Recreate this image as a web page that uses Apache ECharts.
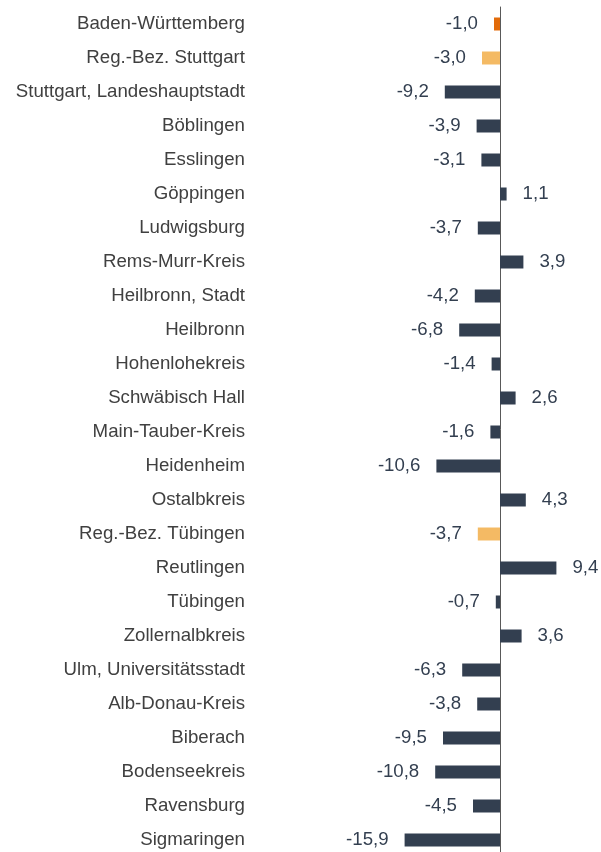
<!DOCTYPE html>
<html>
<head>
<meta charset="utf-8">
<script src="https://cdn.jsdelivr.net/npm/echarts@6/dist/echarts.min.js"></script>
<style>
  html, body { margin: 0; padding: 0; background: #ffffff; }
  #chart { width: 601px; height: 852px; }
</style>
</head>
<body>
<div id="chart"></div>
<script>
// Regions / districts, top to bottom
const categories = [
  'Baden-Württemberg',
  'Reg.-Bez. Stuttgart',
  'Stuttgart, Landeshauptstadt',
  'Böblingen',
  'Esslingen',
  'Göppingen',
  'Ludwigsburg',
  'Rems-Murr-Kreis',
  'Heilbronn, Stadt',
  'Heilbronn',
  'Hohenlohekreis',
  'Schwäbisch Hall',
  'Main-Tauber-Kreis',
  'Heidenheim',
  'Ostalbkreis',
  'Reg.-Bez. Tübingen',
  'Reutlingen',
  'Tübingen',
  'Zollernalbkreis',
  'Ulm, Universitätsstadt',
  'Alb-Donau-Kreis',
  'Biberach',
  'Bodenseekreis',
  'Ravensburg',
  'Sigmaringen'
];

// Change in percent
const values = [
  -1.0, -3.0, -9.2, -3.9, -3.1, 1.1, -3.7, 3.9, -4.2, -6.8,
  -1.4, 2.6, -1.6, -10.6, 4.3, -3.7, 9.4, -0.7, 3.6, -6.3,
  -3.8, -9.5, -10.8, -4.5, -15.9
];

// Bar group: 'land' = state total, 'rb' = administrative region, 'kreis' = district
const groups = [
  'land', 'rb', 'kreis', 'kreis', 'kreis', 'kreis', 'kreis', 'kreis', 'kreis', 'kreis',
  'kreis', 'kreis', 'kreis', 'kreis', 'kreis', 'rb', 'kreis', 'kreis', 'kreis', 'kreis',
  'kreis', 'kreis', 'kreis', 'kreis', 'kreis'
];

const groupColors = { land: '#E26B0A', rb: '#F4BA64', kreis: '#333F50' };

const fmt = v => v.toFixed(1).replace('.', ',');

// 14pt text
const FONT_SIZE = 18.67;

const chart = echarts.init(document.getElementById('chart'), null, { renderer: 'canvas' });

chart.setOption({
  animation: false,
  backgroundColor: '#ffffff',
  grid: {
    left: 380, width: 216, top: 7, height: 850,
    containLabel: false,
    outerBoundsMode: 'none'
  },
  xAxis: {
    type: 'value',
    min: -20,
    max: 16,
    show: false
  },
  yAxis: {
    type: 'category',
    data: categories,
    inverse: true,
    axisLine: { show: true, onZero: true, lineStyle: { color: '#595959', width: 1 } },
    axisTick: { show: false },
    splitLine: { show: false },
    axisLabel: {
      margin: 135,
      color: '#404040',
      fontSize: FONT_SIZE,
      fontFamily: 'Liberation Sans, Arial, sans-serif'
    }
  },
  series: [{
    type: 'bar',
    barWidth: 13,
    data: values.map((v, i) => ({
      value: v,
      itemStyle: { color: groupColors[groups[i]] },
      label: { position: v < 0 ? 'left' : 'right' }
    })),
    label: {
      show: true,
      distance: 16,
      color: '#333F50',
      fontSize: FONT_SIZE,
      fontFamily: 'Liberation Sans, Arial, sans-serif',
      formatter: p => fmt(p.value)
    }
  }]
});
</script>
</body>
</html>
